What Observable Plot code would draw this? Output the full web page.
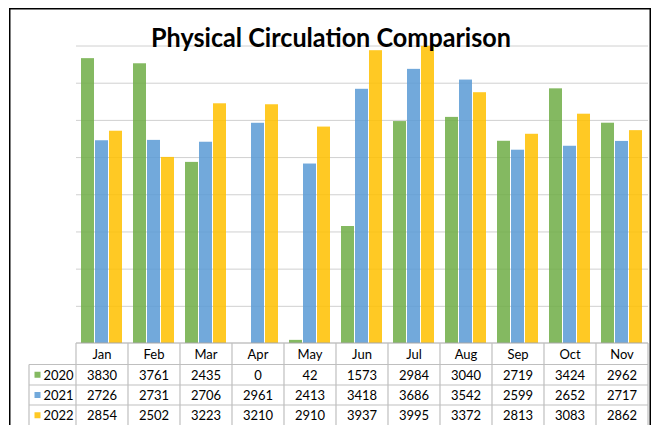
<!DOCTYPE html>
<html>
<head>
<meta charset="utf-8">
<script src="https://cdn.jsdelivr.net/npm/d3@7"></script>
<script src="https://cdn.jsdelivr.net/npm/@observablehq/plot@0.6"></script>
<style>
  html, body { margin: 0; padding: 0; background: #fff; }
  #chart svg { display: block; }
</style>
</head>
<body>
<div id="chart"></div>
<script>
const title = "Physical Circulation Comparison";
const months = ["Jan","Feb","Mar","Apr","May","Jun","Jul","Aug","Sep","Oct","Nov"];
const years = ["2020","2021","2022"];
const v2020 = [3830,3761,2435,0,42,1573,2984,3040,2719,3424,2962];
const v2021 = [2726,2731,2706,2961,2413,3418,3686,3542,2599,2652,2717];
const v2022 = [2854,2502,3223,3210,2910,3937,3995,3372,2813,3083,2862];
const yTicks = [500,1000,1500,2000,2500,3000,3500,4000];
const colors = ["#70AD47","#5B9BD5","#FFC000"];

const series = [v2020, v2021, v2022];
const data = months.flatMap((m, i) => years.map((y, j) => ({month: m, year: y, value: series[j][i]})));

const W = 654, H = 425;
const plot = Plot.plot({
  width: W, height: H,
  marginLeft: 76, marginRight: 6, marginTop: 45.5, marginBottom: 82,
  style: {background: "white", fontFamily: "Lato, sans-serif", overflow: "visible"},
  fx: {domain: months, padding: 0, axis: null},
  x: {domain: years, paddingInner: 0.067, paddingOuter: 0.267, axis: null},
  y: {domain: [0, 4000], axis: null},
  color: {domain: years, range: colors},
  marks: [
    Plot.ruleY(yTicks, {stroke: "#d0d0d0", strokeWidth: 1}),
    Plot.barY(data, {fx: "month", x: "year", y: "value", fill: "year", fillOpacity: 0.86})
  ]
});
document.getElementById("chart").appendChild(plot);

const svg = d3.select(plot);
const fx = plot.scale("fx");
const step = fx.step || fx.bandwidth;
const left = fx.apply(months[0]);
const right = fx.apply(months[months.length - 1]) + step;
const rowY = [343, 364.5, 385, 405, 425.5];
const labelLeft = 29;
const g = svg.append("g").attr("font-family", "Lato, sans-serif").attr("font-size", 13).attr("fill", "#000");
const lineColor = "#bfbfbf";

// horizontal lines
g.append("line").attr("x1", left).attr("x2", right).attr("y1", rowY[0]).attr("y2", rowY[0]).attr("stroke", "#a6a6a6").attr("stroke-width", 1.2);
rowY.slice(1).forEach(y => g.append("line").attr("x1", labelLeft).attr("x2", right).attr("y1", y).attr("y2", y).attr("stroke", lineColor).attr("stroke-width", 1.2));
// vertical lines
months.forEach(m => {
  const x = fx.apply(m);
  g.append("line").attr("x1", x).attr("x2", x).attr("y1", rowY[0]).attr("y2", 440).attr("stroke", lineColor).attr("stroke-width", 1.2);
});
g.append("line").attr("x1", right).attr("x2", right).attr("y1", rowY[0]).attr("y2", 440).attr("stroke", lineColor).attr("stroke-width", 1.2);
g.append("line").attr("x1", labelLeft).attr("x2", labelLeft).attr("y1", rowY[1]).attr("y2", 440).attr("stroke", lineColor).attr("stroke-width", 1.2);

// header
months.forEach(m => {
  g.append("text").attr("x", fx.apply(m) + step / 2).attr("y", (rowY[0] + rowY[1]) / 2 + 0.5)
    .attr("text-anchor", "middle").attr("dominant-baseline", "central").text(m);
});
// rows
years.forEach((yr, j) => {
  const cy = (rowY[j + 1] + rowY[j + 2]) / 2;
  g.append("rect").attr("x", 34.5).attr("y", cy - 3).attr("width", 6).attr("height", 6).attr("fill", colors[j]).attr("fill-opacity", 0.86);
  g.append("text").attr("x", 43.5).attr("y", cy).attr("text-anchor", "start").attr("dominant-baseline", "central").text(yr);
  months.forEach((m, i) => {
    g.append("text").attr("x", fx.apply(m) + step / 2).attr("y", cy)
      .attr("text-anchor", "middle").attr("dominant-baseline", "central").text(series[j][i]);
  });
});

// title
svg.append("text").attr("x", 331).attr("y", 46.5).attr("text-anchor", "middle")
  .attr("font-family", "Lato, sans-serif").attr("font-weight", "bold").attr("font-size", 26)
  .attr("textLength", 360).attr("lengthAdjust", "spacingAndGlyphs").attr("fill", "#000").text(title);

// chart border
svg.append("rect").attr("x", 9.75).attr("y", 8.75).attr("width", 640.5).attr("height", 440)
  .attr("fill", "none").attr("stroke", "#000").attr("stroke-width", 1.5);
</script>
</body>
</html>
